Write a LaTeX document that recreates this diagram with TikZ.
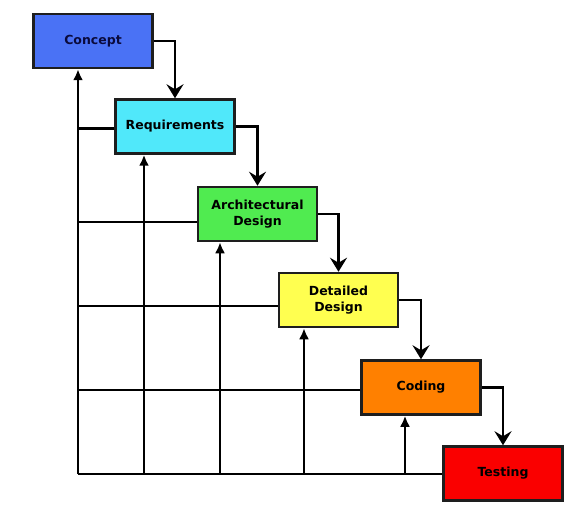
\documentclass[tikz,border=0pt]{standalone}
\usepackage{fontspec}
\setmainfont{DejaVu Sans}
\usetikzlibrary{arrows.meta}
\definecolor{cblue}{RGB}{74,114,245}
\definecolor{ccyan}{RGB}{80,232,250}
\definecolor{cgreen}{RGB}{80,235,80}
\definecolor{cyellow}{RGB}{255,255,80}
\definecolor{corange}{RGB}{255,128,0}
\definecolor{cred}{RGB}{250,0,0}
\definecolor{edge}{RGB}{30,30,30}
\begin{document}
\begin{tikzpicture}[x=1pt,y=-1pt,
  phase/.style={draw=edge,line width=2.5pt,minimum width=119pt,minimum height=54pt,
    inner sep=0pt,align=center,font=\fontsize{12.5}{15.5}\selectfont\bfseries,text=black},
  flow/.style={line width=2.5pt,-{Stealth[length=14pt,width=17pt,inset=5pt]}},
  back/.style={line width=2.5pt,-{Latex[length=11pt,width=10pt]}},
  link/.style={line width=2.5pt}]
\useasboundingbox (0,0) rectangle (578,513);
\node[phase,fill=cblue,text={rgb,255:red,10;green,10;blue,60}] (concept) at (93,41) {Concept};
\node[phase,fill=ccyan] (req) at (175,126.5) {Requirements};
\node[phase,fill=cgreen] (arch) at (257.5,214) {Architectural\\Design};
\node[phase,fill=cyellow] (det) at (338.5,300) {Detailed\\Design};
\node[phase,fill=corange] (cod) at (421,387.5) {Coding};
\node[phase,fill=cred] (tst) at (503,473.5) {Testing};
% forward flow
\draw[flow] (concept.east) -| (req.north);
\draw[flow] (req.east) -| (arch.north);
\draw[flow] (arch.east) -| (det.north);
\draw[flow] (det.east) -| (cod.north);
\draw[flow] (cod.east) -| (tst.north);
% feedback grid
\coordinate (b1) at (78,474);
\coordinate (b2) at (144,474);
\coordinate (b3) at (220,474);
\coordinate (b4) at (304,474);
\coordinate (b5) at (405,474);
\draw[link] (tst.west |- b1) -- (b1);
\draw[link] (req.west) ++(0,2) -- (b1 |- 0,128.5);
\draw[link] (arch.west) ++(0,8) -- (b1 |- 0,222);
\draw[link] (det.west) ++(0,6) -- (b1 |- 0,306);
\draw[link] (cod.west) ++(0,2.5) -- (b1 |- 0,390);
\draw[back] (b1) -- (b1 |- concept.south);
\draw[back] (b2) -- (b2 |- req.south);
\draw[back] (b3) -- (b3 |- arch.south);
\draw[back] (b4) -- (b4 |- det.south);
\draw[back] (b5) -- (b5 |- cod.south);
\end{tikzpicture}
\end{document}
